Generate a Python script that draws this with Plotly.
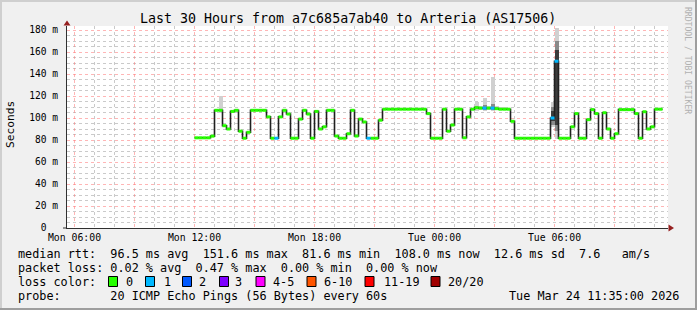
import plotly.graph_objects as go
import pandas as pd

# ---------------- data ----------------
BIN_START = "2026-03-23 12:00:00"
BIN_MINUTES = 12

median_ms = [
    82, 82, 82, 82, 83.5, 107, 107, 93, 90, 106,
    107, 88, 81.6, 87, 107, 107, 107, 107, 101, 81.6,
    81.6, 101, 107, 103.6, 81.6, 81.6, 99, 107, 103.6, 81.6,
    106, 90, 92, 107, 107, 83.6, 81.6, 81.6, 85.7, 107,
    83.6, 99, 96.4, 81.6, 81.6, 81.6, 98, 108, 108, 108,
    108, 108, 108, 108, 108, 108, 108, 108, 104, 81.6,
    81.6, 81.6, 108, 88, 93.6, 108, 108, 82, 101, 108,
    109.4, 109, 109, 109, 109, 108.5, 108, 108, 108, 97,
    81.6, 81.6, 81.6, 81.6, 81.6, 81.6, 81.6, 81.6, 81.6, 100,
    151.6, 81.6, 81.6, 81.6, 92, 104, 81.6, 81.6, 98.5, 107.6,
    104, 81.6, 104.8, 90, 81.6, 85.7, 107.6, 107.6, 107.6, 107.6,
    104, 81.6, 105.7, 90, 92, 108, 108,
]
# bins where 1 of 20 pings was lost (all others: no loss)
loss_one_bins = [20, 43, 72, 74, 89, 90]
loss_class = [1 if i in loss_one_bins else 0 for i in range(len(median_ms))]

# smoke (spread of the 20 pings) for bins where it shows above/below the median
smoke_bin = [6, 70, 71, 72, 73, 74, 75, 76, 77, 89, 90]
smoke_lo = [105, 106, 107, 106, 107, 106, 107, 107, 107, 92, 80.5]
smoke_hi = [120, 115, 111, 118, 111, 137, 111, 110, 110, 115, 181.5]
smoke_mid_bin = [72, 74, 89, 90]
smoke_mid_lo = [107, 107, 94, 88]
smoke_mid_hi = [112, 113, 110, 170]
smoke_core_bin = [89, 90]
smoke_core_lo = [97, 94]
smoke_core_hi = [106, 162]

loss_labels = ["0", "1", "2", "3", "4-5", "6-10", "11-19", "20/20"]
loss_colors = ["#26ff00", "#00b8ff", "#0059ff", "#7e00ff", "#ff00ff", "#ff5500", "#ff0000", "#a10000"]

y_label_alias = {"0 m": "0\u00a0\u00a0", "0": "0\u00a0\u00a0"}

title_text = "Last 30 Hours from a7c685a7ab40 to Arteria (AS17506)"
legend_rows = [
    "median rtt:  96.5 ms avg  151.6 ms max  81.6 ms min  108.0 ms now  12.6 ms sd  7.6   am/s",
    "packet loss: 0.02 % avg  0.47 % max  0.00 % min  0.00 % now",
    "loss color:",
    "probe:       20 ICMP Echo Pings (56 Bytes) every 60s",
]
date_text = "Tue Mar 24 11:35:00 2026"

# ---------------- layout geometry ----------------
W, H = 697, 310
L, R, T, B = 67, 668, 26, 228
MONO = "DejaVu Sans Mono"
MAJOR_GRID = "rgba(255,120,120,0.55)"
MINOR_GRID = "rgba(150,150,150,0.5)"


def fx(x):
    return (x - L) / (R - L)


def fy(y):
    return (B - y) / (B - T)


def nb(s):
    return s.replace(" ", "\u00a0")


times = pd.date_range(BIN_START, periods=len(median_ms) + 1, freq=f"{BIN_MINUTES}min")
bin_w_ms = BIN_MINUTES * 60 * 1000
centers = [times[i] + pd.Timedelta(minutes=BIN_MINUTES / 2) for i in range(len(median_ms))]

fig = go.Figure()

# smoke layers
for bins, lo, hi, col in [
    (smoke_bin, smoke_lo, smoke_hi, "#d0d0d0"),
    (smoke_mid_bin, smoke_mid_lo, smoke_mid_hi, "#8a8a8a"),
    (smoke_core_bin, smoke_core_lo, smoke_core_hi, "#3c3c3c"),
]:
    fig.add_trace(go.Bar(
        x=[centers[b] for b in bins],
        base=lo,
        y=[h - l for h, l in zip(hi, lo)],
        width=[bin_w_ms] * len(bins),
        marker=dict(color=col, line=dict(width=0)),
        hoverinfo="skip", showlegend=False,
    ))

# median step line (black)
fig.add_trace(go.Scatter(
    x=list(times), y=median_ms + [median_ms[-1]],
    mode="lines", line=dict(color="#202020", width=1.6, shape="hv"),
    hoverinfo="skip", showlegend=False,
))

# coloured horizontal segments by loss class
for cls in sorted(set(loss_class)):
    xs, ys = [], []
    for i, v in enumerate(median_ms):
        if loss_class[i] == cls:
            xs += [times[i], times[i + 1], None]
            ys += [v, v, None]
    fig.add_trace(go.Scatter(
        x=xs, y=ys, mode="lines",
        line=dict(color=loss_colors[cls], width=3),
        hoverinfo="skip", showlegend=False,
    ))

shapes = []
# frame
shapes.append(dict(type="rect", xref="paper", yref="paper", x0=fx(0), x1=fx(W), y0=fy(0), y1=fy(2),
                   fillcolor="#cfcfcf", line=dict(width=0), layer="above"))
shapes.append(dict(type="rect", xref="paper", yref="paper", x0=fx(0), x1=fx(2), y0=fy(0), y1=fy(H),
                   fillcolor="#cfcfcf", line=dict(width=0), layer="above"))
shapes.append(dict(type="rect", xref="paper", yref="paper", x0=fx(0), x1=fx(W), y0=fy(H - 2), y1=fy(H),
                   fillcolor="#9e9e9e", line=dict(width=0), layer="above"))
shapes.append(dict(type="rect", xref="paper", yref="paper", x0=fx(W - 2), x1=fx(W), y0=fy(0), y1=fy(H),
                   fillcolor="#9e9e9e", line=dict(width=0), layer="above"))
# arrows
shapes.append(dict(type="path", xref="paper", yref="paper",
                   path=f"M {fx(63.5)} {fy(25.5)} L {fx(70.5)} {fy(25.5)} L {fx(67)} {fy(20.5)} Z",
                   fillcolor="#962020", line=dict(width=0), layer="above"))
shapes.append(dict(type="path", xref="paper", yref="paper",
                   path=f"M {fx(668.5)} {fy(224.5)} L {fx(668.5)} {fy(231.5)} L {fx(674)} {fy(228)} Z",
                   fillcolor="#962020", line=dict(width=0), layer="above"))
# small axis extension left of origin
shapes.append(dict(type="line", xref="paper", yref="paper", x0=fx(63), x1=fx(67), y0=0, y1=0,
                   line=dict(color="#303030", width=1), layer="above"))

annotations = []
annotations.append(dict(text=nb(title_text), x=fx(348), y=fy(19), xref="paper", yref="paper",
                        showarrow=False, xanchor="center", yanchor="middle",
                        font=dict(family=MONO, size=13.3, color="#000")))
annotations.append(dict(text="Seconds", x=fx(10), y=fy(125), xref="paper", yref="paper",
                        showarrow=False, xanchor="center", yanchor="middle", textangle=-90,
                        font=dict(family=MONO, size=11.2, color="#000")))
annotations.append(dict(text=nb("RRDTOOL / TOBI OETIKER"), x=fx(688), y=fy(60), xref="paper", yref="paper",
                        showarrow=False, xanchor="center", yanchor="middle", textangle=90,
                        font=dict(family=MONO, size=8.1, color="#b0b0b0")))
row_y = [254, 268, 282, 296]
for txt, yy in zip(legend_rows, row_y):
    annotations.append(dict(text=nb(txt), x=fx(16), y=fy(yy), xref="paper", yref="paper",
                            showarrow=False, xanchor="left", yanchor="middle",
                            font=dict(family=MONO, size=11.8, color="#000")))
annotations.append(dict(text=nb(date_text), x=fx(681), y=fy(296), xref="paper", yref="paper",
                        showarrow=False, xanchor="right", yanchor="middle",
                        font=dict(family=MONO, size=11.8, color="#000")))
box_x = [108.5, 145.5, 182.5, 219.5, 256, 307, 365, 431]
lab_x = [124, 162, 197, 233, 270.5, 321.5, 381.5, 446]
for bx, lx, lab, col in zip(box_x, lab_x, loss_labels, loss_colors):
    shapes.append(dict(type="rect", xref="paper", yref="paper",
                       x0=fx(bx), x1=fx(bx + 9), y0=fy(286.5), y1=fy(276.5),
                       fillcolor=col, line=dict(color="#000", width=1), layer="above"))
    annotations.append(dict(text=nb(lab), x=fx(lx), y=fy(282), xref="paper", yref="paper",
                            showarrow=False, xanchor="left", yanchor="middle",
                            font=dict(family=MONO, size=11.8, color="#000")))

fig.update_layout(
    width=W, height=H,
    margin=dict(l=L, r=W - R, t=T, b=H - B, pad=0),
    paper_bgcolor="#f0f0f0", plot_bgcolor="#ffffff",
    barmode="overlay", bargap=0,
    showlegend=False,
    shapes=shapes, annotations=annotations,
    xaxis=dict(
        type="date", range=["2026-03-23 05:37:30", "2026-03-24 11:40:30"],
        tickmode="linear", tick0="2026-03-23 06:00", dtick=3 * 3600000, ticklabelstep=2,
        tickformat="%a %H:%M",
        showgrid=True, gridcolor=MAJOR_GRID, griddash="dot", gridwidth=1,
        minor=dict(tickmode="linear", tick0="2026-03-23 06:00", dtick=3600000, showgrid=True,
                   gridcolor=MINOR_GRID, griddash="dot", gridwidth=1),
        showline=True, linecolor="#303030", linewidth=1,
        ticks="", zeroline=False,
        tickfont=dict(family=MONO, size=9.8, color="#000"),
        fixedrange=True,
    ),
    yaxis=dict(
        range=[0, (B - T) / 1.1],
        tickmode="linear", tick0=0, dtick=20, ticksuffix=" m", labelalias=y_label_alias,
        showgrid=True, gridcolor=MAJOR_GRID, griddash="dot", gridwidth=1,
        minor=dict(tickmode="linear", tick0=0, dtick=5, showgrid=True,
                   gridcolor=MINOR_GRID, griddash="dot", gridwidth=1),
        showline=True, linecolor="#303030", linewidth=1,
        ticks="", zeroline=False, ticklabelstandoff=6,
        tickfont=dict(family=MONO, size=9.6, color="#000"),
        fixedrange=True,
    ),
)

fig.write_html("out.html")
